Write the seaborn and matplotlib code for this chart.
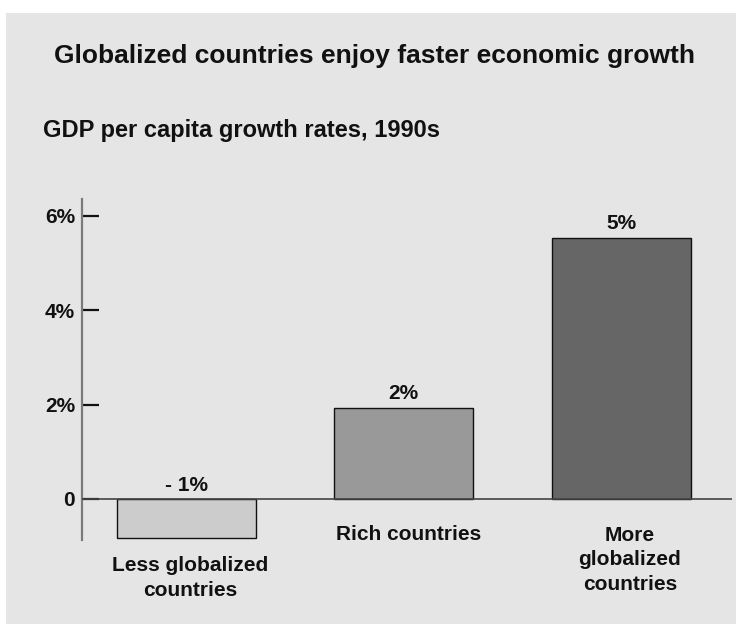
import matplotlib
matplotlib.use("Agg")
import matplotlib.pyplot as plt
from matplotlib.patches import Rectangle
from matplotlib.transforms import blended_transform_factory
import seaborn as sns
import pandas as pd

# Data
categories = ["Less globalized\ncountries", "Rich countries", "More\nglobalized\ncountries"]
growth = [-0.83, 1.93, 5.53]
value_labels = ["- 1%", "2%", "5%"]
bar_colors = ["#cccccc", "#999999", "#666666"]
y_ticks = [0, 2, 4, 6]
y_tick_labels = ["0", "2%", "4%", "6%"]

sns.set_theme(style="white")
plt.rcParams["font.family"] = ["Liberation Sans", "DejaVu Sans"]
plt.rcParams["font.weight"] = "bold"

W, H = 736, 624
fig = plt.figure(figsize=(W / 100, H / 100), dpi=100, facecolor="white")

# light gray panel behind everything
fig.patches.append(Rectangle((6 / W, 0), 1, (H - 13) / H, transform=fig.transFigure,
                             facecolor="#e5e5e5", edgecolor="none", zorder=-10))

ax = fig.add_axes([82 / W, (H - 540) / H, (732 - 82) / W, (540 - 199) / H])
ax.set_facecolor("none")

df = pd.DataFrame({"group": categories, "growth": growth})
sns.barplot(data=df, x="group", y="growth", hue="group", palette=bar_colors,
            edgecolor="#111111", linewidth=1.0, width=0.64, legend=False,
            saturation=1, ax=ax, zorder=3)

ax.set_xlim(-0.48, 2.51)
ax.set_ylim(-0.868, 6.35)

# zero baseline
ax.axhline(0, color="#444444", lw=1.2, zorder=4)

# axis styling
for s in ["top", "right", "bottom"]:
    ax.spines[s].set_visible(False)
ax.spines["left"].set_color("#7a7a7a")
ax.spines["left"].set_linewidth(1.6)
ax.set_yticks(y_ticks)
ax.set_yticklabels(y_tick_labels, fontsize=15, fontweight="bold", color="#111111")
ax.tick_params(axis="y", direction="in", length=12, width=1.6, color="#111111", pad=5, left=True)
ax.set_xticks([])
ax.set_xlabel("")
ax.set_ylabel("")
ax.grid(False)

# value labels above bars
for i, (v, lab) in enumerate(zip(growth, value_labels)):
    ax.annotate(lab, xy=(i, max(v, 0)), xytext=(0, 6), textcoords="offset points",
                ha="center", va="baseline", fontsize=15, fontweight="bold", color="#111111")

# category labels below the axis (baseline of the last line, in pixels from top)
trans = blended_transform_factory(ax.transData, fig.transFigure)
label_last_baselines = [596, 540, 590]
label_shift = [0.018, 0.022, 0.04]
for i, (cat, yb) in enumerate(zip(categories, label_last_baselines)):
    ax.text(i + label_shift[i], (H - yb) / H, cat, transform=trans, ha="center", va="baseline",
            fontsize=15, fontweight="bold", color="#111111", linespacing=1.38, multialignment="center")

# titles
fig.text(375 / W, (H - 63) / H, "Globalized countries enjoy faster economic growth",
         ha="center", va="baseline", fontsize=19, fontweight="bold", color="#111111")
fig.text(43 / W, (H - 136.5) / H, "GDP per capita growth rates, 1990s",
         ha="left", va="baseline", fontsize=17, fontweight="bold", color="#111111")

fig.savefig("out.png", dpi=100, facecolor="white")
